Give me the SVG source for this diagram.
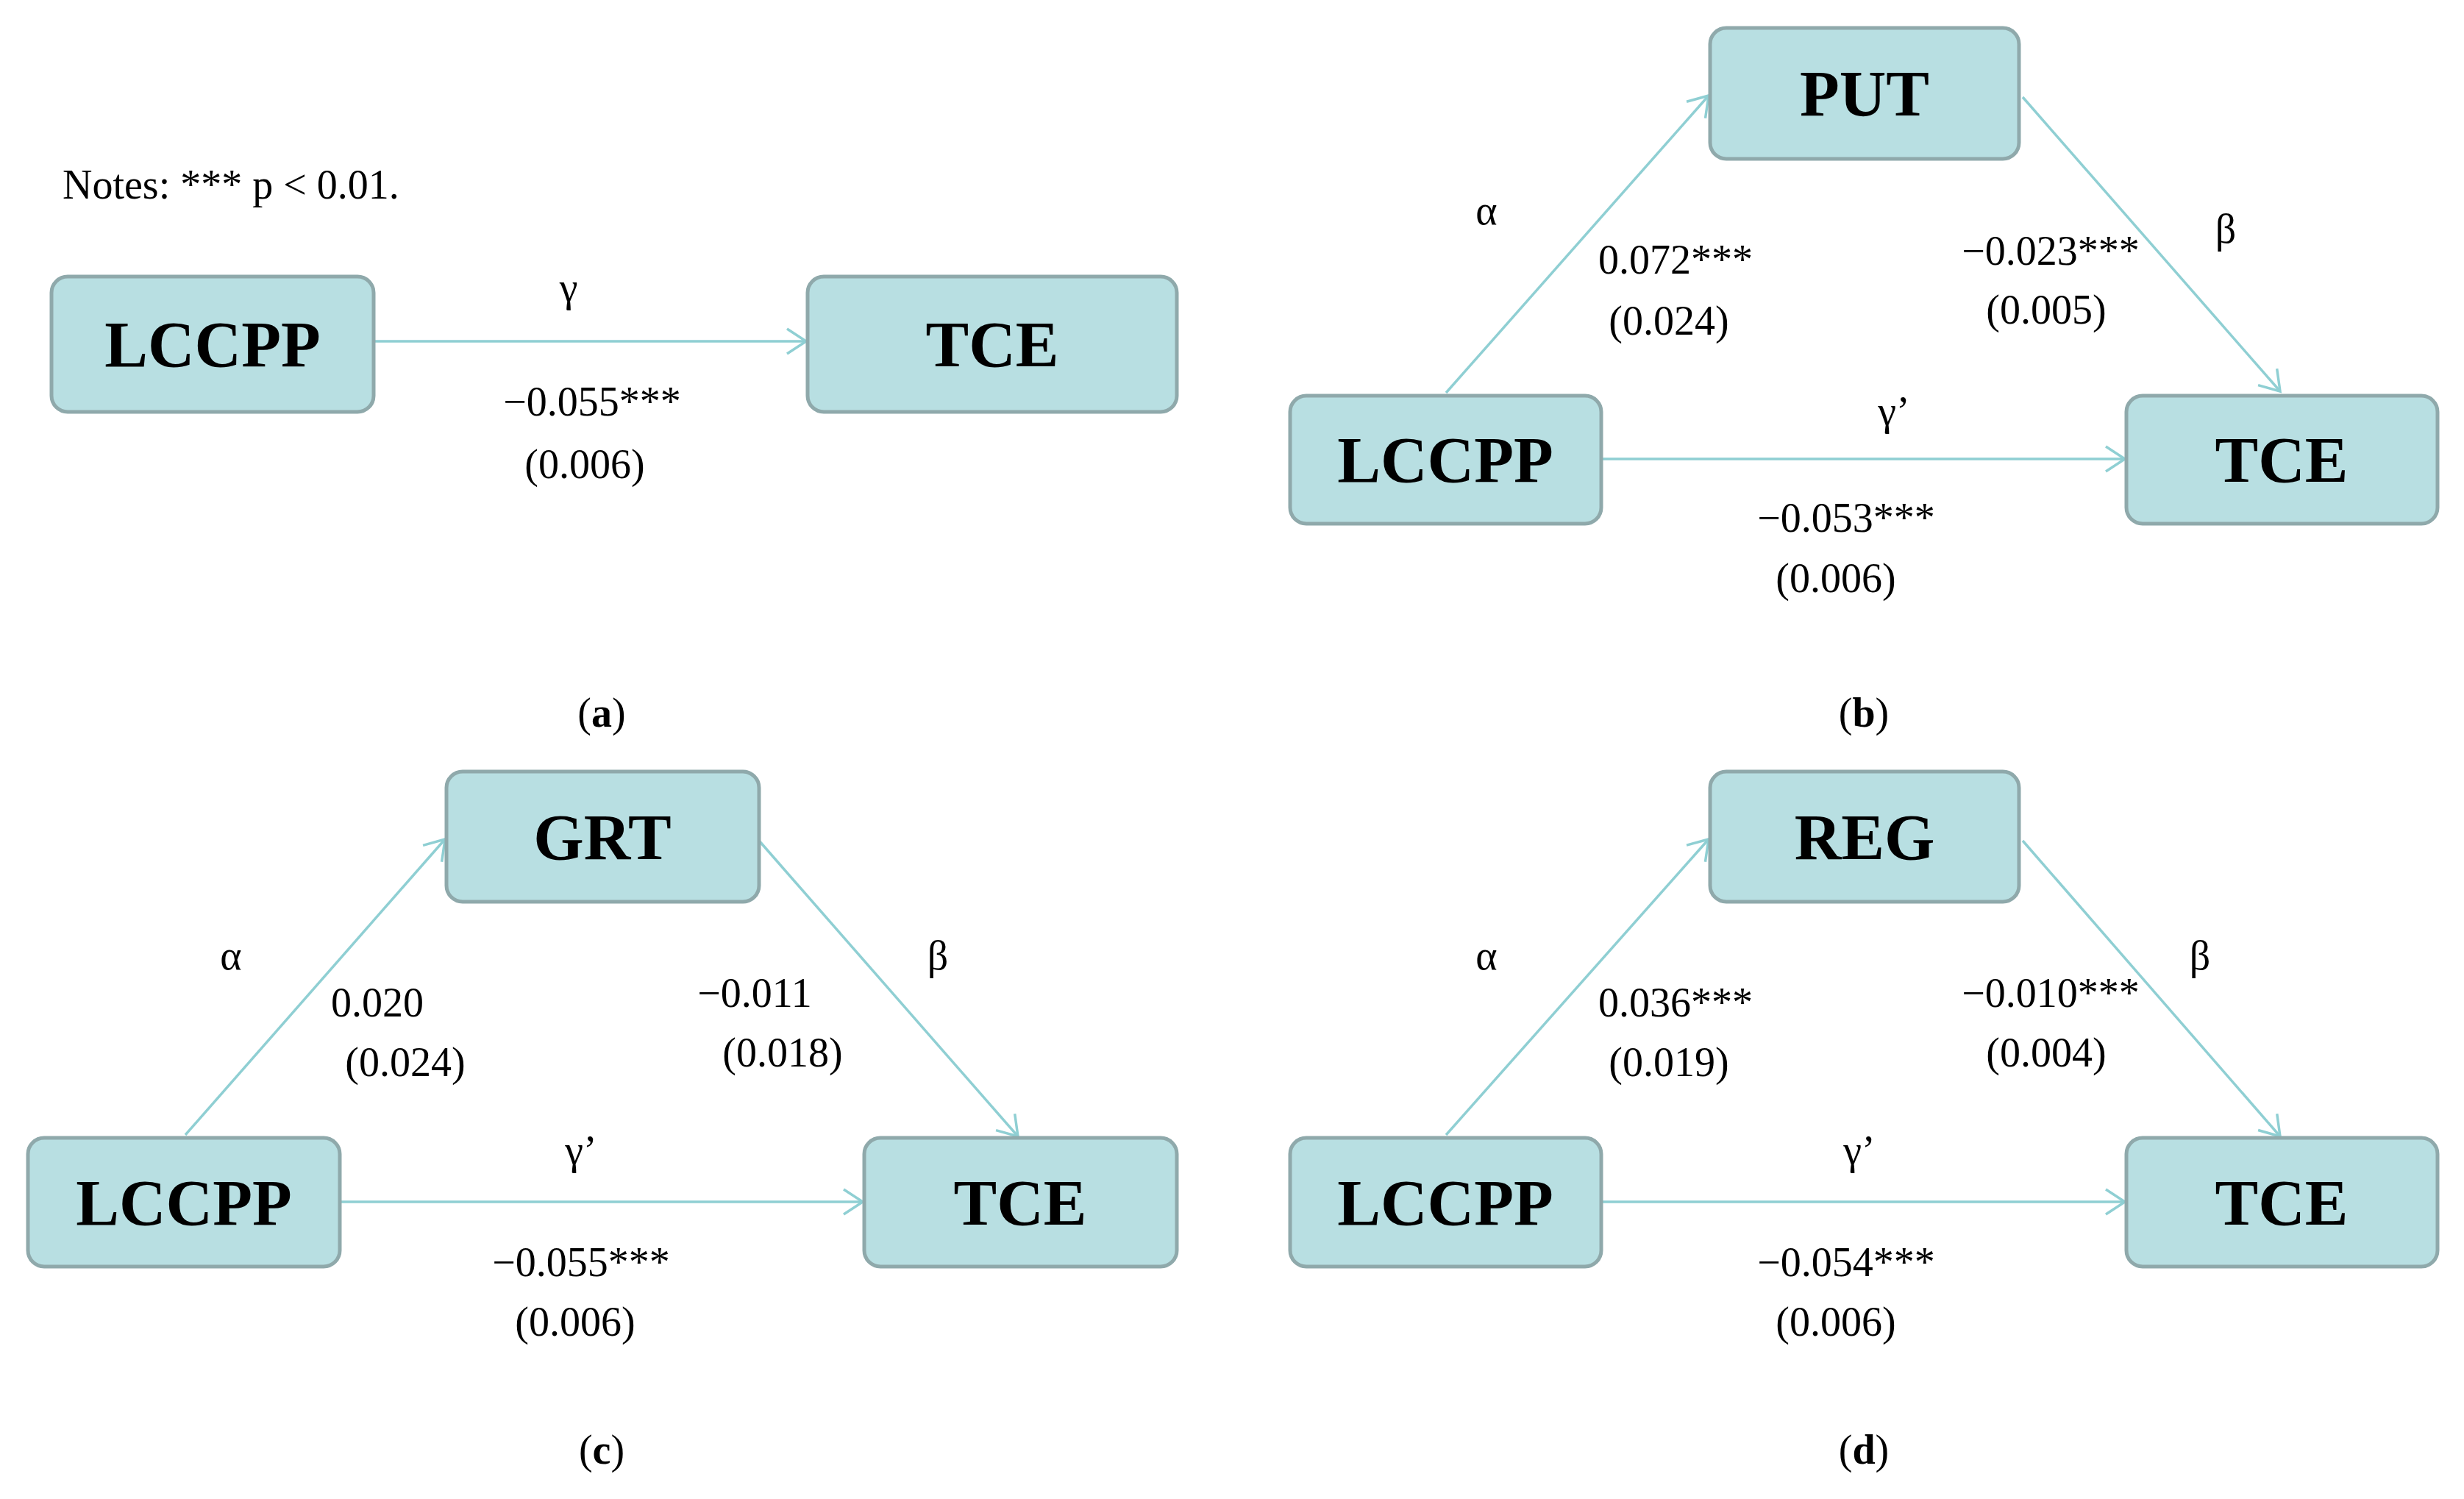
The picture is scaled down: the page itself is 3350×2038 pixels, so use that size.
<svg xmlns="http://www.w3.org/2000/svg" width="3350" height="2038" viewBox="0 0 3350 2038">
<style>
.box{fill:#b8dfe2;stroke:#8fa9ab;stroke-width:5}
.lbl{font-family:"Liberation Serif",serif;font-weight:bold;font-size:88px;text-anchor:middle;fill:#000}
.t{font-family:"Liberation Serif",serif;font-size:56px;text-anchor:middle;fill:#000}
.ln{stroke:#8fcfd3;stroke-width:3.5;fill:none;marker-end:url(#ah)}
</style>
<defs>
<marker id="ah" markerUnits="userSpaceOnUse" markerWidth="40" markerHeight="40" viewBox="-30 -20 40 40" refX="0" refY="0" orient="auto">
<path d="M-26,-17 L0,0 L-26,17" fill="none" stroke="#8fcfd3" stroke-width="3.5"/>
</marker>
</defs>
<rect width="3350" height="2038" fill="#fff"/>
<g id="connectors">
<line class="ln" x1="508" y1="464" x2="1096" y2="464"/>
<line class="ln" x1="1966" y1="534" x2="2323" y2="130"/>
<line class="ln" x1="2750" y1="132" x2="3100" y2="532"/>
<line class="ln" x1="2177" y1="624" x2="2889" y2="624"/>
<line class="ln" x1="252" y1="1543" x2="605" y2="1141"/>
<line class="ln" x1="1032" y1="1143" x2="1384" y2="1545"/>
<line class="ln" x1="462" y1="1634" x2="1173" y2="1634"/>
<line class="ln" x1="1966" y1="1543" x2="2323" y2="1141"/>
<line class="ln" x1="2750" y1="1143" x2="3100" y2="1545"/>
<line class="ln" x1="2177" y1="1634" x2="2889" y2="1634"/>
</g>
<g id="a-lccpp"><rect class="box" x="70" y="376" width="438" height="184" rx="22"/><text class="lbl" x="289" y="498">LCCPP</text></g>
<g id="a-tce"><rect class="box" x="1098" y="376" width="502" height="184" rx="22"/><text class="lbl" x="1349" y="498">TCE</text></g>
<g id="b-put"><rect class="box" x="2325" y="38" width="420" height="178" rx="22"/><text class="lbl" x="2535" y="157">PUT</text></g>
<g id="b-lccpp"><rect class="box" x="1754" y="538" width="423" height="174" rx="22"/><text class="lbl" x="1965" y="655">LCCPP</text></g>
<g id="b-tce"><rect class="box" x="2891" y="538" width="423" height="174" rx="22"/><text class="lbl" x="3102" y="655">TCE</text></g>
<g id="c-grt"><rect class="box" x="607" y="1049" width="425" height="177" rx="22"/><text class="lbl" x="819" y="1168">GRT</text></g>
<g id="c-lccpp"><rect class="box" x="38" y="1547" width="424" height="175" rx="22"/><text class="lbl" x="250" y="1665">LCCPP</text></g>
<g id="c-tce"><rect class="box" x="1175" y="1547" width="425" height="175" rx="22"/><text class="lbl" x="1387" y="1665">TCE</text></g>
<g id="d-reg"><rect class="box" x="2325" y="1049" width="420" height="177" rx="22"/><text class="lbl" x="2535" y="1168">REG</text></g>
<g id="d-lccpp"><rect class="box" x="1754" y="1547" width="423" height="175" rx="22"/><text class="lbl" x="1965" y="1665">LCCPP</text></g>
<g id="d-tce"><rect class="box" x="2891" y="1547" width="423" height="175" rx="22"/><text class="lbl" x="3102" y="1665">TCE</text></g>
<g id="labels">
<text class="t" x="85" y="270" text-anchor="start" style="text-anchor:start">Notes: *** p &lt; 0.01.</text>
<text class="t" x="773" y="410">γ</text>
<text class="t" x="805" y="565">−0.055***</text>
<text class="t" x="795" y="650">(0.006)</text>
<text class="t" x="818" y="988">(<tspan font-weight="bold">a</tspan>)</text>

<text class="t" x="2021" y="305">α</text>
<text class="t" x="2278" y="372">0.072***</text>
<text class="t" x="2269" y="455">(0.024)</text>
<text class="t" x="2788" y="360">−0.023***</text>
<text class="t" x="3026" y="330">β</text>
<text class="t" x="2782" y="440">(0.005)</text>
<text class="t" x="2575" y="578">γ’</text>
<text class="t" x="2510" y="723">−0.053***</text>
<text class="t" x="2496" y="805">(0.006)</text>
<text class="t" x="2534" y="988">(<tspan font-weight="bold">b</tspan>)</text>

<text class="t" x="314" y="1318">α</text>
<text class="t" x="513" y="1382">0.020</text>
<text class="t" x="551" y="1463">(0.024)</text>
<text class="t" x="1026" y="1369">−0.011</text>
<text class="t" x="1064" y="1450">(0.018)</text>
<text class="t" x="1275" y="1318">β</text>
<text class="t" x="790" y="1583">γ’</text>
<text class="t" x="790" y="1735">−0.055***</text>
<text class="t" x="782" y="1816">(0.006)</text>
<text class="t" x="818" y="1990">(<tspan font-weight="bold">c</tspan>)</text>

<text class="t" x="2021" y="1318">α</text>
<text class="t" x="2278" y="1382">0.036***</text>
<text class="t" x="2269" y="1463">(0.019)</text>
<text class="t" x="2788" y="1369">−0.010***</text>
<text class="t" x="2782" y="1450">(0.004)</text>
<text class="t" x="2991" y="1318">β</text>
<text class="t" x="2528" y="1583">γ’</text>
<text class="t" x="2510" y="1735">−0.054***</text>
<text class="t" x="2496" y="1816">(0.006)</text>
<text class="t" x="2534" y="1990">(<tspan font-weight="bold">d</tspan>)</text>
</g>
</svg>
